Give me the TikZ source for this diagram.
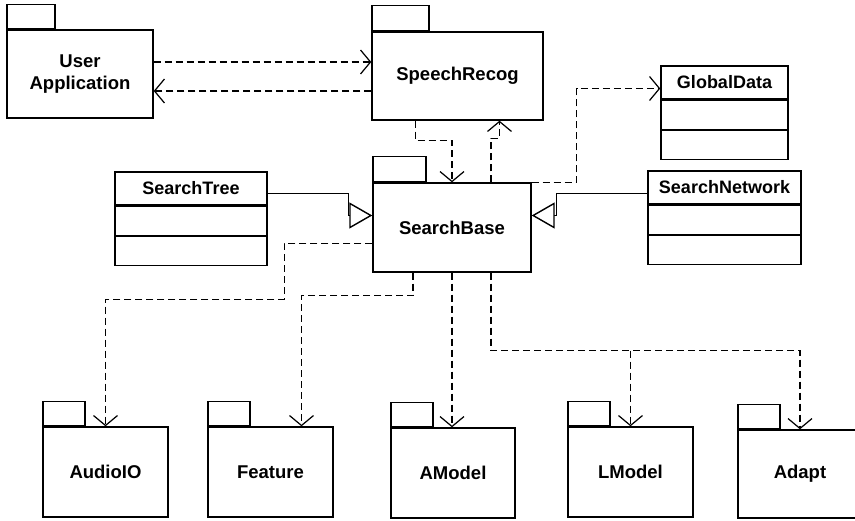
\documentclass[tikz,border=0pt]{standalone}
\usepackage{fontspec}
\setmainfont{Liberation Sans}
\usetikzlibrary{positioning,arrows.meta}

\tikzset{
    pkg/.style={shape=rectangle,draw=black,line width=1.4pt,inner sep=0pt,
        minimum width=125pt,minimum height=90pt,align=center,
        font=\fontsize{18.5}{22}\selectfont\bfseries},
    pkgtab/.style={shape=rectangle,draw=black,line width=1.4pt,inner sep=0pt,
        minimum width=42pt,minimum height=24pt,anchor=south west},
    classtitle/.style={shape=rectangle,draw=black,line width=1.4pt,inner sep=0pt,
        minimum height=33pt,font=\fontsize{18}{21}\selectfont\bfseries},
    classrow/.style={shape=rectangle,draw=black,line width=1.4pt,inner sep=0pt,
        minimum height=29pt},
    dep/.style={draw=black,line width=1.2pt,dash pattern=on 7pt off 4pt,
        -{Straight Barb[length=10pt,width=24pt,line width=1.2pt]}},
    inh/.style={draw=black,line width=0.9pt,
        -{Triangle[open,length=23pt,width=26pt,line width=1.4pt,fill=white]}}
}

\begin{document}
\begin{tikzpicture}[x=1pt,y=1pt]
                    \useasboundingbox (0,0) rectangle (855,520);

                    % packages
                    \node[pkg,minimum width=146pt,minimum height=88pt] (UA) at (80,446) {User\\Application};
                    \node[pkgtab,minimum width=48pt] (UAtab) at (UA.north west) {};
                    \node[pkg,minimum width=171pt,minimum height=88pt] (SR) at (457.5,444) {SpeechRecog};
                    \node[pkgtab,minimum width=57pt,minimum height=25pt] (SRtab) at (SR.north west) {};
                    \node[pkg,minimum width=158pt,minimum height=89pt] (SB) at (452,292.5) {SearchBase};
                    \node[pkgtab,minimum width=53pt,minimum height=25pt] (SBtab) at (SB.north west) {};

                    \node[pkg] (AU) at (105.5,48) {AudioIO};
                    \node[pkgtab] (AUtab) at (AU.north west) {};
                    \node[pkg] (FE) at (270.5,48) {Feature};
                    \node[pkgtab] (FEtab) at (FE.north west) {};
                    \node[pkg,minimum width=124pt] (AM) at (453,47) {AModel};
                    \node[pkgtab] (AMtab) at (AM.north west) {};
                    \node[pkg] (LM) at (630.5,48) {LModel};
                    \node[pkgtab] (LMtab) at (LM.north west) {};
                    \node[pkg,minimum width=124pt,minimum height=88pt] (AD) at (800,46) {Adapt};
                    \node[pkgtab] (ADtab) at (AD.north west) {};

                    % classes
                    \node[classtitle,minimum width=127pt] (GD) at (724.5,437.5) {GlobalData};
                    \node[classrow,minimum width=127pt,below=0pt of GD] (GD1) {};
                    \node[classrow,minimum width=127pt,below=0pt of GD1] (GD2) {};
                    \node[classtitle,minimum width=153pt] (SN) at (724.5,332.5) {SearchNetwork};
                    \node[classrow,minimum width=153pt,below=0pt of SN] (SN1) {};
                    \node[classrow,minimum width=153pt,below=0pt of SN1] (SN2) {};
                    \node[classtitle,minimum width=152pt] (ST) at (191,331.5) {SearchTree};
                    \node[classrow,minimum width=152pt,below=0pt of ST] (ST1) {};
                    \node[classrow,minimum width=152pt,below=0pt of ST1] (ST2) {};

                    % dependencies
                    \draw[dep] ([yshift=12pt]UA.east) -- ([yshift=12pt]UA.east -| SR.west);
                    \draw[dep] ([yshift=-15pt]SR.west) -- ([yshift=-15pt]SR.west -| UA.east);
                    \draw[dep] ([xshift=-42pt]SR.south) -- ++(0,-20) -| (SB.north);
                    \draw[dep] ([xshift=39pt]SB.north) -- ++(0,44) -| ([xshift=42pt]SR.south);
                    \draw[dep] (SB.north east) -- ++(45,0) |- ([yshift=-6pt]GD.west);
                    \draw[dep] ([yshift=-16pt]SB.west) -- ++(-88,0) -- ++(0,-56) -| (AU.north);
                    \draw[dep] ([xshift=-39pt]SB.south) -- ++(0,-23) -| ([xshift=31pt]FE.north);
                    \draw[dep] (SB.south) -- (SB.south |- AM.north);
                    \draw[dep] ([xshift=39pt]SB.south) -- ++(0,-78) coordinate (split) -| (AD.north);
                    \draw[dep] (split -| LM.north) -- (LM.north);

                    % generalisations
                    \draw[inh] ([yshift=-6pt]SN.west) -- ++(-91,0) |- ([yshift=12pt]SB.east);
                    \draw[inh] ([yshift=-5pt]ST.east) -- ++(81,0) |- ([yshift=12pt]SB.west);
                \end{tikzpicture}
\end{document}
